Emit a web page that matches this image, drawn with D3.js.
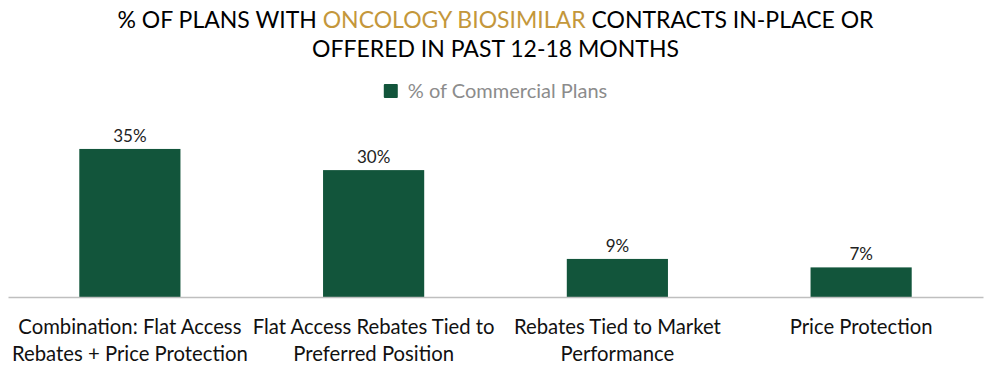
<!DOCTYPE html>
<html>
<head>
<meta charset="utf-8">
<script src="https://cdn.jsdelivr.net/npm/d3@7"></script>
<style>
  body { margin: 0; background: #fff; }
  svg { font-family: Lato, "Open Sans", sans-serif; }
</style>
</head>
<body>
<svg id="chart"></svg>
<script>
// chart data
const categories = [
  ["Combination: Flat Access", "Rebates + Price Protection"],
  ["Flat Access Rebates Tied to", "Preferred Position"],
  ["Rebates Tied to Market", "Performance"],
  ["Price Protection"]
];
const values = [35, 30, 9, 7];
const seriesName = "% of Commercial Plans";
const titleParts = [
  [{ t: "% OF PLANS WITH ", c: "#000" }, { t: "ONCOLOGY BIOSIMILAR", c: "#C4973B" }, { t: " CONTRACTS IN-PLACE OR", c: "#000" }],
  [{ t: "OFFERED IN PAST 12-18 MONTHS", c: "#000" }]
];

const width = 991, height = 367;
const margin = { top: 297 - 35 * 4.23, left: 8, right: 8 };
const baseY = 297;
const barColor = "#12553B";

const svg = d3.select("#chart")
    .attr("width", width)
    .attr("height", height);

// title
const title = svg.append("text")
    .attr("text-anchor", "middle")
    .style("font-size", "23px");
titleParts.forEach((line, i) => {
  const row = title.append("tspan")
      .attr("x", width / 2)
      .attr("y", 28 + i * 29);
  line.forEach(p => {
    row.append("tspan").attr("fill", p.c).text(p.t);
  });
});

// legend
const legend = svg.append("g");
const legendText = legend.append("text")
    .attr("y", 98)
    .attr("fill", "#8c8c8c")
    .style("font-size", "20px")
    .text(seriesName);
const lw = legendText.node().getComputedTextLength();
const lx = (width - lw - 24) / 2;
legend.append("rect")
    .attr("x", lx)
    .attr("y", 84)
    .attr("width", 14)
    .attr("height", 14)
    .attr("rx", 1)
    .attr("fill", barColor);
legendText.attr("x", lx + 24);

// scales
const xScale = d3.scaleBand()
    .domain(d3.range(values.length))
    .range([margin.left, width - margin.right])
    .paddingInner(0.585)
    .paddingOuter(0.2925);

const yScale = d3.scaleLinear()
    .domain([0, 35])
    .range([baseY, margin.top]);

// bars
svg.selectAll(".bar")
    .data(values)
    .join("rect")
    .attr("class", "bar")
    .attr("x", (d, i) => xScale(i))
    .attr("y", d => yScale(d))
    .attr("width", xScale.bandwidth())
    .attr("height", d => baseY - yScale(d))
    .attr("fill", barColor);

// value labels
svg.selectAll(".val")
    .data(values)
    .join("text")
    .attr("class", "val")
    .attr("x", (d, i) => xScale(i) + xScale.bandwidth() / 2)
    .attr("y", d => yScale(d) - 7)
    .attr("text-anchor", "middle")
    .attr("fill", "#222")
    .style("font-size", "17px")
    .text(d => d + "%");

// x axis
const xAxis = d3.axisBottom(xScale).tickSize(0).tickFormat("");
const xAxisG = svg.append("g")
    .attr("transform", `translate(0,${baseY})`)
    .call(xAxis);
xAxisG.select(".domain").attr("stroke", "#bfbfbf").attr("stroke-width", 1.5);

// category labels
svg.selectAll(".cat")
    .data(categories)
    .join("text")
    .attr("class", "cat")
    .attr("text-anchor", "middle")
    .attr("fill", "#111")
    .style("font-size", "20.3px")
    .each(function(d, i) {
      const t = d3.select(this);
      d.forEach((line, j) => {
        t.append("tspan")
            .attr("x", xScale(i) + xScale.bandwidth() / 2)
            .attr("y", 334 + j * 27)
            .text(line);
      });
    });
</script>
</body>
</html>
